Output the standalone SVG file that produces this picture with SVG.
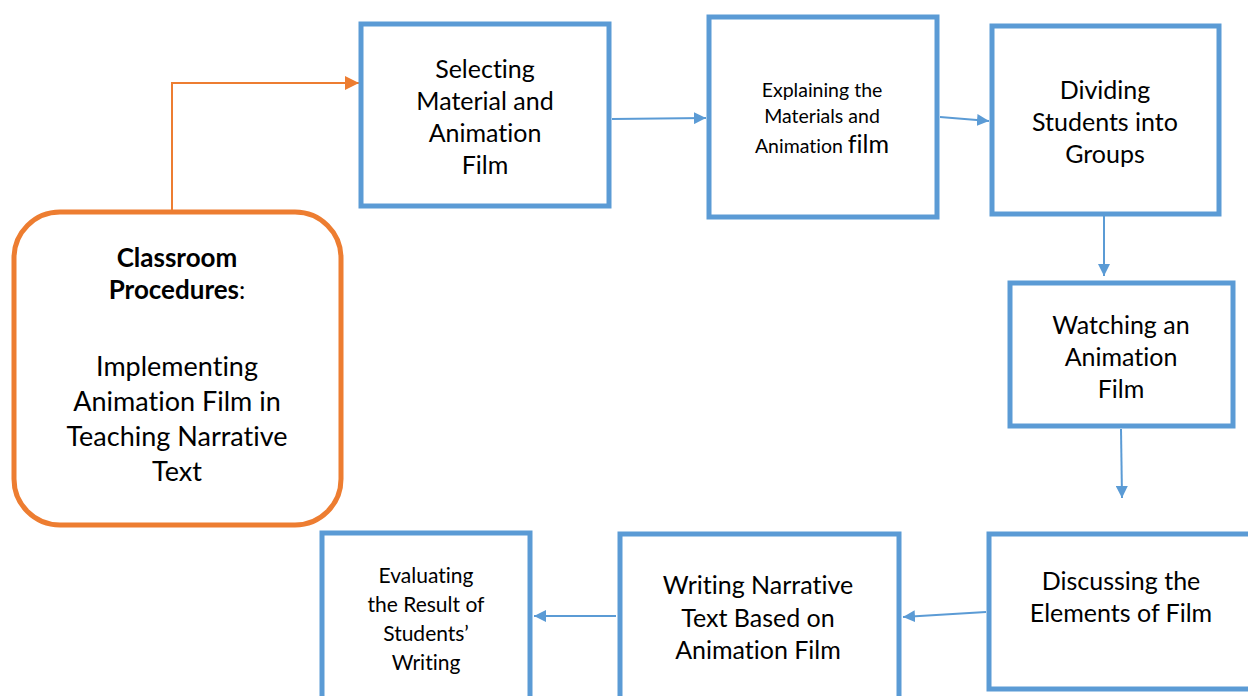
<svg xmlns="http://www.w3.org/2000/svg" width="1248" height="696" viewBox="0 0 1248 696">
  <style>
    .box { fill: #ffffff; stroke: #5B9BD5; stroke-width: 5; }
    .start { fill: #ffffff; stroke: #ED7D31; stroke-width: 5; }
    .lbl { font-family: Lato, "Liberation Sans", sans-serif; font-size: 25px; fill: #000000; text-anchor: middle; font-variant-ligatures: none; }
    .sm { font-size: 19.5px; }
    .ev { font-size: 21px; }
    .big { font-size: 27px; }
    .b { font-weight: bold; font-size: 26px; }
    .flow { stroke: #5B9BD5; stroke-width: 2; fill: none; marker-end: url(#blueHead); }
    .lead { stroke: #ED7D31; stroke-width: 2; fill: none; marker-end: url(#orangeHead); }
  </style>
  <defs>
    <marker id="blueHead" viewBox="0 0 10 10" refX="10" refY="5" markerWidth="6" markerHeight="6" orient="auto" markerUnits="strokeWidth">
      <path d="M0,0 L10,5 L0,10 Z" fill="#5B9BD5"/>
    </marker>
    <marker id="orangeHead" viewBox="0 0 10 10" refX="10" refY="5" markerWidth="7" markerHeight="7" orient="auto" markerUnits="strokeWidth">
      <path d="M0,0 L10,5 L0,10 Z" fill="#ED7D31"/>
    </marker>
    <clipPath id="evalClip">
      <rect x="322" y="534" width="208" height="140"/>
    </clipPath>
  </defs>

  <!-- connectors -->
  <g id="connectors">
    <path class="lead" d="M172,212 V83 H359"/>
    <path class="flow" d="M612,119 L706,118"/>
    <path class="flow" d="M940,117 L989,121"/>
    <path class="flow" d="M1104,210 L1104,276"/>
    <path class="flow" d="M1121,429 L1122,498"/>
    <path class="flow" d="M986,612 L903,617"/>
    <path class="flow" d="M616,616 L534,616"/>
  </g>

  <!-- start node -->
  <g id="classroom">
    <rect class="start" x="14" y="212" width="327" height="313" rx="46" ry="46"/>
    <text class="lbl" x="177" y="267"><tspan class="b">Classroom</tspan></text>
    <text class="lbl" x="177" y="299"><tspan class="b">Procedures</tspan>:</text>
    <text class="lbl big" x="177" y="376">Implementing</text>
    <text class="lbl big" x="177" y="411">Animation Film in</text>
    <text class="lbl big" x="177" y="446">Teaching Narrative</text>
    <text class="lbl big" x="177" y="481">Text</text>
  </g>

  <g id="selecting">
    <rect class="box" x="361" y="24" width="248" height="182"/>
    <text class="lbl" x="485" y="78">Selecting</text>
    <text class="lbl" x="485" y="110">Material and</text>
    <text class="lbl" x="485" y="142">Animation</text>
    <text class="lbl" x="485" y="174">Film</text>
  </g>

  <g id="explaining">
    <rect class="box" x="709" y="17" width="228" height="200"/>
    <text class="lbl sm" x="822" y="97">Explaining the</text>
    <text class="lbl sm" x="822" y="123">Materials and</text>
    <text class="lbl sm" x="822" y="153">Animation <tspan style="font-size:25px">film</tspan></text>
  </g>

  <g id="dividing">
    <rect class="box" x="992" y="26" width="227" height="188"/>
    <text class="lbl" x="1105" y="99">Dividing</text>
    <text class="lbl" x="1105" y="131">Students into</text>
    <text class="lbl" x="1105" y="163">Groups</text>
  </g>

  <g id="watching">
    <rect class="box" x="1010" y="283" width="223" height="143"/>
    <text class="lbl" x="1121" y="334">Watching an</text>
    <text class="lbl" x="1121" y="366">Animation</text>
    <text class="lbl" x="1121" y="398">Film</text>
  </g>

  <g id="discussing">
    <rect class="box" x="989" y="534" width="262" height="155"/>
    <text class="lbl" x="1121" y="590">Discussing the</text>
    <text class="lbl" x="1121" y="622">Elements of Film</text>
  </g>

  <g id="writing">
    <rect class="box" x="620" y="534" width="279" height="170"/>
    <text class="lbl" x="758" y="594">Writing Narrative</text>
    <text class="lbl" x="758" y="627">Text Based on</text>
    <text class="lbl" x="758" y="659">Animation Film</text>
  </g>

  <g id="evaluating">
    <rect class="box" x="322" y="533" width="208" height="170"/>
    <g clip-path="url(#evalClip)">
      <text class="lbl ev" x="426" y="583">Evaluating</text>
      <text class="lbl ev" x="426" y="612">the Result of</text>
      <text class="lbl ev" x="426" y="641">Students’</text>
      <text class="lbl ev" x="426" y="670">Writing</text>
    </g>
  </g>
</svg>
